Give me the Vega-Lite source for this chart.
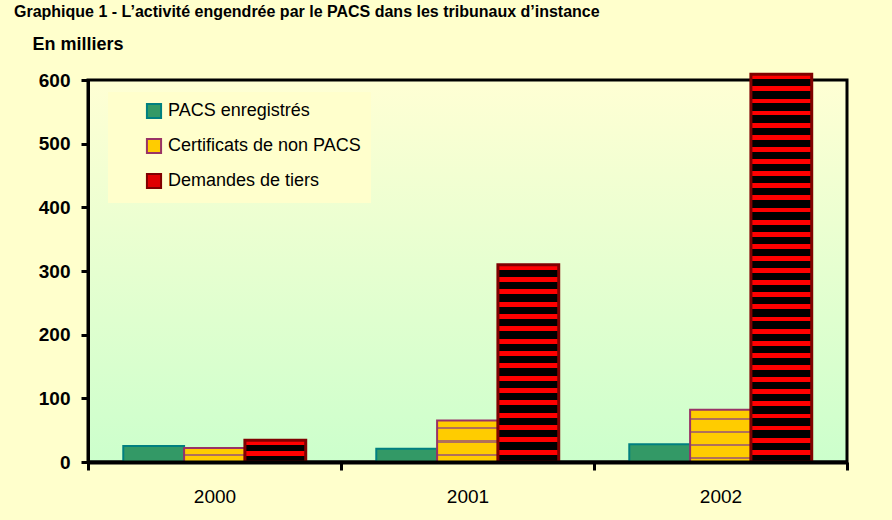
{
  "$schema": "https://vega.github.io/schema/vega-lite/v6.json",
  "autosize": "none",
  "width": 759,
  "height": 382,
  "padding": {"left": 88, "top": 80, "right": 45, "bottom": 58},
  "background": "#FFFFCC",
  "title": {
    "text": "Graphique 1 - L’activité engendrée par le PACS dans les tribunaux d’instance",
    "anchor": "start",
    "frame": "group",
    "dx": -74,
    "offset": 2,
    "baseline": "alphabetic",
    "font": "Liberation Sans",
    "fontSize": 16,
    "fontWeight": "bold",
    "color": "#000000"
  },
  "config": {
    "view": {
      "stroke": "#000000",
      "strokeWidth": 3,
      "fill": {"gradient": "linear", "x1": 0, "y1": 0, "x2": 0, "y2": 1, "stops": [{"offset": 0, "color": "#FFFFD4"}, {"offset": 1, "color": "#CCFFCC"}]}
    },
    "font": "Liberation Sans"
  },
  "data": {
    "values": [
      {"annee": "2000", "serie": "PACS enregistrés", "valeur": 25},
      {"annee": "2000", "serie": "Certificats de non PACS", "valeur": 22},
      {"annee": "2000", "serie": "Demandes de tiers", "valeur": 34},
      {"annee": "2001", "serie": "PACS enregistrés", "valeur": 21},
      {"annee": "2001", "serie": "Certificats de non PACS", "valeur": 65},
      {"annee": "2001", "serie": "Demandes de tiers", "valeur": 310},
      {"annee": "2002", "serie": "PACS enregistrés", "valeur": 28},
      {"annee": "2002", "serie": "Certificats de non PACS", "valeur": 82},
      {"annee": "2002", "serie": "Demandes de tiers", "valeur": 609}
    ]
  },
  "encoding": {
    "x": {
      "field": "annee", "type": "nominal",
      "scale": {"paddingInner": 0, "paddingOuter": 0},
      "axis": {
        "title": null, "labelAngle": 0, "tickBand": "extent",
        "domainColor": "#000000", "domainWidth": 4,
        "tickColor": "#000000", "tickWidth": 3, "tickSize": 8,
        "labelFont": "Liberation Sans", "labelFontSize": 19, "labelColor": "#000000",
        "labelPadding": 17, "zindex": 2
      }
    },
    "xOffset": {
      "field": "serie", "type": "nominal",
      "scale": {"domain": ["PACS enregistrés", "Certificats de non PACS", "Demandes de tiers"], "paddingInner": 0, "paddingOuter": 0.58}
    },
    "y": {
      "field": "valeur", "type": "quantitative",
      "scale": {"domain": [0, 600], "nice": false},
      "axis": {
        "title": "En milliers", "titleAngle": 0, "titleX": -56, "titleY": -36,
        "titleAlign": "left", "titleBaseline": "middle",
        "titleFont": "Liberation Sans", "titleFontSize": 18, "titleFontWeight": "bold", "titleColor": "#000000",
        "values": [0, 100, 200, 300, 400, 500, 600], "grid": false,
        "domainColor": "#000000", "domainWidth": 3,
        "tickColor": "#000000", "tickWidth": 3, "tickSize": 7,
        "labelFont": "Liberation Sans", "labelFontSize": 19, "labelFontWeight": "bold", "labelColor": "#000000",
        "labelPadding": 11, "zindex": 2
      }
    }
  },
  "layer": [
    {
      "transform": [{"filter": "datum.serie === 'PACS enregistrés'"}],
      "mark": {"type": "bar", "strokeWidth": 2},
      "encoding": {
        "color": {
          "field": "serie", "type": "nominal",
          "scale": {"domain": ["PACS enregistrés", "Certificats de non PACS", "Demandes de tiers"], "range": ["#339966", "#FFCC00", "#E00000"]},
          "legend": {
            "title": null, "orient": "none", "legendX": 20, "legendY": 12,
            "direction": "vertical",
            "fillColor": "#FFFFCC", "padding": 10, "symbolOffset": 27,
            "symbolType": "square", "symbolSize": 200, "symbolStrokeWidth": 2, "symbolOpacity": 1,
            "labelFont": "Liberation Sans", "labelFontSize": 18, "labelColor": "#000000",
            "labelOffset": 5, "rowPadding": 11, "labelLimit": 400
          }
        },
        "stroke": {
          "field": "serie", "type": "nominal",
          "scale": {"domain": ["PACS enregistrés", "Certificats de non PACS", "Demandes de tiers"], "range": ["#008080", "#993366", "#800000"]},
          "legend": {
            "title": null, "orient": "none", "legendX": 20, "legendY": 12,
            "direction": "vertical",
            "fillColor": "#FFFFCC", "padding": 10, "symbolOffset": 27,
            "symbolType": "square", "symbolSize": 200, "symbolStrokeWidth": 2, "symbolOpacity": 1,
            "labelFont": "Liberation Sans", "labelFontSize": 18, "labelColor": "#000000",
            "labelOffset": 5, "rowPadding": 11, "labelLimit": 400
          }
        }
      }
    },
    {
      "transform": [{"filter": "datum.serie === 'Certificats de non PACS' && datum.annee === '2000'"}],
      "mark": {"type": "bar", "stroke": "#993366", "strokeWidth": 2,
        "fill": {"gradient": "linear", "x1": 0, "y1": 0, "x2": 0, "y2": 1, "stops": [
          {"offset": 0, "color": "#FFCC00"}, {"offset": 0.45, "color": "#FFCC00"}, {"offset": 0.45, "color": "#B0705A"}, {"offset": 0.58, "color": "#B0705A"}, {"offset": 0.58, "color": "#FFCC00"}, {"offset": 1, "color": "#FFCC00"}]}}
    },
    {
      "transform": [{"filter": "datum.serie === 'Certificats de non PACS' && datum.annee === '2001'"}],
      "mark": {"type": "bar", "stroke": "#993366", "strokeWidth": 2,
        "fill": {"gradient": "linear", "x1": 0, "y1": 0, "x2": 0, "y2": 1, "stops": [
          {"offset": 0, "color": "#FFCC00"}, {"offset": 0.15, "color": "#FFCC00"}, {"offset": 0.15, "color": "#B0705A"}, {"offset": 0.2, "color": "#B0705A"},
          {"offset": 0.2, "color": "#FFCC00"}, {"offset": 0.48, "color": "#FFCC00"}, {"offset": 0.48, "color": "#B0705A"}, {"offset": 0.53, "color": "#B0705A"},
          {"offset": 0.53, "color": "#FFCC00"}, {"offset": 0.81, "color": "#FFCC00"}, {"offset": 0.81, "color": "#B0705A"}, {"offset": 0.86, "color": "#B0705A"},
          {"offset": 0.86, "color": "#FFCC00"}, {"offset": 1, "color": "#FFCC00"}]}}
    },
    {
      "transform": [{"filter": "datum.serie === 'Certificats de non PACS' && datum.annee === '2002'"}],
      "mark": {"type": "bar", "stroke": "#993366", "strokeWidth": 2,
        "fill": {"gradient": "linear", "x1": 0, "y1": 0, "x2": 0, "y2": 1, "stops": [
          {"offset": 0, "color": "#FFCC00"}, {"offset": 0.15, "color": "#FFCC00"}, {"offset": 0.15, "color": "#B0705A"}, {"offset": 0.19, "color": "#B0705A"},
          {"offset": 0.19, "color": "#FFCC00"}, {"offset": 0.4, "color": "#FFCC00"}, {"offset": 0.4, "color": "#B0705A"}, {"offset": 0.44, "color": "#B0705A"},
          {"offset": 0.44, "color": "#FFCC00"}, {"offset": 0.65, "color": "#FFCC00"}, {"offset": 0.65, "color": "#B0705A"}, {"offset": 0.69, "color": "#B0705A"},
          {"offset": 0.69, "color": "#FFCC00"}, {"offset": 0.9, "color": "#FFCC00"}, {"offset": 0.9, "color": "#B0705A"}, {"offset": 0.94, "color": "#B0705A"},
          {"offset": 0.94, "color": "#FFCC00"}, {"offset": 1, "color": "#FFCC00"}]}}
    },
    {
      "transform": [{"filter": "datum.serie === 'Demandes de tiers' && datum.annee === '2000'"}],
      "mark": {"type": "bar", "stroke": "#800000", "strokeWidth": 3,
        "fill": {"gradient": "linear", "x1": 0, "y1": 0, "x2": 0, "y2": 1, "stops": [
          {"offset": 0, "color": "#FF0000"}, {"offset": 0.2, "color": "#FF0000"}, {"offset": 0.2, "color": "#000000"}, {"offset": 0.5, "color": "#000000"},
          {"offset": 0.5, "color": "#FF0000"}, {"offset": 0.7, "color": "#FF0000"}, {"offset": 0.7, "color": "#000000"}, {"offset": 1, "color": "#000000"}]}}
    },
    {
      "transform": [{"filter": "datum.serie === 'Demandes de tiers' && datum.annee === '2001'"}],
      "mark": {"type": "bar", "stroke": "#800000", "strokeWidth": 3,
        "fill": {"gradient": "linear", "x1": 0, "y1": 0, "x2": 0, "y2": 1, "stops": [
          {"offset": 0, "color": "#FF0000"}, {"offset": 0.025, "color": "#FF0000"}, {"offset": 0.025, "color": "#000000"}, {"offset": 0.0625, "color": "#000000"},
          {"offset": 0.0625, "color": "#FF0000"}, {"offset": 0.0875, "color": "#FF0000"}, {"offset": 0.0875, "color": "#000000"}, {"offset": 0.125, "color": "#000000"},
          {"offset": 0.125, "color": "#FF0000"}, {"offset": 0.15, "color": "#FF0000"}, {"offset": 0.15, "color": "#000000"}, {"offset": 0.1875, "color": "#000000"},
          {"offset": 0.1875, "color": "#FF0000"}, {"offset": 0.2125, "color": "#FF0000"}, {"offset": 0.2125, "color": "#000000"}, {"offset": 0.25, "color": "#000000"},
          {"offset": 0.25, "color": "#FF0000"}, {"offset": 0.275, "color": "#FF0000"}, {"offset": 0.275, "color": "#000000"}, {"offset": 0.3125, "color": "#000000"},
          {"offset": 0.3125, "color": "#FF0000"}, {"offset": 0.3375, "color": "#FF0000"}, {"offset": 0.3375, "color": "#000000"}, {"offset": 0.375, "color": "#000000"},
          {"offset": 0.375, "color": "#FF0000"}, {"offset": 0.4, "color": "#FF0000"}, {"offset": 0.4, "color": "#000000"}, {"offset": 0.4375, "color": "#000000"},
          {"offset": 0.4375, "color": "#FF0000"}, {"offset": 0.4625, "color": "#FF0000"}, {"offset": 0.4625, "color": "#000000"}, {"offset": 0.5, "color": "#000000"},
          {"offset": 0.5, "color": "#FF0000"}, {"offset": 0.525, "color": "#FF0000"}, {"offset": 0.525, "color": "#000000"}, {"offset": 0.5625, "color": "#000000"},
          {"offset": 0.5625, "color": "#FF0000"}, {"offset": 0.5875, "color": "#FF0000"}, {"offset": 0.5875, "color": "#000000"}, {"offset": 0.625, "color": "#000000"},
          {"offset": 0.625, "color": "#FF0000"}, {"offset": 0.65, "color": "#FF0000"}, {"offset": 0.65, "color": "#000000"}, {"offset": 0.6875, "color": "#000000"},
          {"offset": 0.6875, "color": "#FF0000"}, {"offset": 0.7125, "color": "#FF0000"}, {"offset": 0.7125, "color": "#000000"}, {"offset": 0.75, "color": "#000000"},
          {"offset": 0.75, "color": "#FF0000"}, {"offset": 0.775, "color": "#FF0000"}, {"offset": 0.775, "color": "#000000"}, {"offset": 0.8125, "color": "#000000"},
          {"offset": 0.8125, "color": "#FF0000"}, {"offset": 0.8375, "color": "#FF0000"}, {"offset": 0.8375, "color": "#000000"}, {"offset": 0.875, "color": "#000000"},
          {"offset": 0.875, "color": "#FF0000"}, {"offset": 0.9, "color": "#FF0000"}, {"offset": 0.9, "color": "#000000"}, {"offset": 0.9375, "color": "#000000"},
          {"offset": 0.9375, "color": "#FF0000"}, {"offset": 0.9625, "color": "#FF0000"}, {"offset": 0.9625, "color": "#000000"}, {"offset": 1, "color": "#000000"}]}}
    },
    {
      "transform": [{"filter": "datum.serie === 'Demandes de tiers' && datum.annee === '2002'"}],
      "mark": {"type": "bar", "stroke": "#800000", "strokeWidth": 3,
        "fill": {"gradient": "linear", "x1": 0, "y1": 0, "x2": 0, "y2": 1, "stops": [
          {"offset": 0, "color": "#FF0000"}, {"offset": 0.0125, "color": "#FF0000"}, {"offset": 0.0125, "color": "#000000"}, {"offset": 0.03125, "color": "#000000"},
          {"offset": 0.03125, "color": "#FF0000"}, {"offset": 0.04375, "color": "#FF0000"}, {"offset": 0.04375, "color": "#000000"}, {"offset": 0.0625, "color": "#000000"},
          {"offset": 0.0625, "color": "#FF0000"}, {"offset": 0.075, "color": "#FF0000"}, {"offset": 0.075, "color": "#000000"}, {"offset": 0.09375, "color": "#000000"},
          {"offset": 0.09375, "color": "#FF0000"}, {"offset": 0.10625, "color": "#FF0000"}, {"offset": 0.10625, "color": "#000000"}, {"offset": 0.125, "color": "#000000"},
          {"offset": 0.125, "color": "#FF0000"}, {"offset": 0.1375, "color": "#FF0000"}, {"offset": 0.1375, "color": "#000000"}, {"offset": 0.15625, "color": "#000000"},
          {"offset": 0.15625, "color": "#FF0000"}, {"offset": 0.16875, "color": "#FF0000"}, {"offset": 0.16875, "color": "#000000"}, {"offset": 0.1875, "color": "#000000"},
          {"offset": 0.1875, "color": "#FF0000"}, {"offset": 0.2, "color": "#FF0000"}, {"offset": 0.2, "color": "#000000"}, {"offset": 0.21875, "color": "#000000"},
          {"offset": 0.21875, "color": "#FF0000"}, {"offset": 0.23125, "color": "#FF0000"}, {"offset": 0.23125, "color": "#000000"}, {"offset": 0.25, "color": "#000000"},
          {"offset": 0.25, "color": "#FF0000"}, {"offset": 0.2625, "color": "#FF0000"}, {"offset": 0.2625, "color": "#000000"}, {"offset": 0.28125, "color": "#000000"},
          {"offset": 0.28125, "color": "#FF0000"}, {"offset": 0.29375, "color": "#FF0000"}, {"offset": 0.29375, "color": "#000000"}, {"offset": 0.3125, "color": "#000000"},
          {"offset": 0.3125, "color": "#FF0000"}, {"offset": 0.325, "color": "#FF0000"}, {"offset": 0.325, "color": "#000000"}, {"offset": 0.34375, "color": "#000000"},
          {"offset": 0.34375, "color": "#FF0000"}, {"offset": 0.35625, "color": "#FF0000"}, {"offset": 0.35625, "color": "#000000"}, {"offset": 0.375, "color": "#000000"},
          {"offset": 0.375, "color": "#FF0000"}, {"offset": 0.3875, "color": "#FF0000"}, {"offset": 0.3875, "color": "#000000"}, {"offset": 0.40625, "color": "#000000"},
          {"offset": 0.40625, "color": "#FF0000"}, {"offset": 0.41875, "color": "#FF0000"}, {"offset": 0.41875, "color": "#000000"}, {"offset": 0.4375, "color": "#000000"},
          {"offset": 0.4375, "color": "#FF0000"}, {"offset": 0.45, "color": "#FF0000"}, {"offset": 0.45, "color": "#000000"}, {"offset": 0.46875, "color": "#000000"},
          {"offset": 0.46875, "color": "#FF0000"}, {"offset": 0.48125, "color": "#FF0000"}, {"offset": 0.48125, "color": "#000000"}, {"offset": 0.5, "color": "#000000"},
          {"offset": 0.5, "color": "#FF0000"}, {"offset": 0.5125, "color": "#FF0000"}, {"offset": 0.5125, "color": "#000000"}, {"offset": 0.53125, "color": "#000000"},
          {"offset": 0.53125, "color": "#FF0000"}, {"offset": 0.54375, "color": "#FF0000"}, {"offset": 0.54375, "color": "#000000"}, {"offset": 0.5625, "color": "#000000"},
          {"offset": 0.5625, "color": "#FF0000"}, {"offset": 0.575, "color": "#FF0000"}, {"offset": 0.575, "color": "#000000"}, {"offset": 0.59375, "color": "#000000"},
          {"offset": 0.59375, "color": "#FF0000"}, {"offset": 0.60625, "color": "#FF0000"}, {"offset": 0.60625, "color": "#000000"}, {"offset": 0.625, "color": "#000000"},
          {"offset": 0.625, "color": "#FF0000"}, {"offset": 0.6375, "color": "#FF0000"}, {"offset": 0.6375, "color": "#000000"}, {"offset": 0.65625, "color": "#000000"},
          {"offset": 0.65625, "color": "#FF0000"}, {"offset": 0.66875, "color": "#FF0000"}, {"offset": 0.66875, "color": "#000000"}, {"offset": 0.6875, "color": "#000000"},
          {"offset": 0.6875, "color": "#FF0000"}, {"offset": 0.7, "color": "#FF0000"}, {"offset": 0.7, "color": "#000000"}, {"offset": 0.71875, "color": "#000000"},
          {"offset": 0.71875, "color": "#FF0000"}, {"offset": 0.73125, "color": "#FF0000"}, {"offset": 0.73125, "color": "#000000"}, {"offset": 0.75, "color": "#000000"},
          {"offset": 0.75, "color": "#FF0000"}, {"offset": 0.7625, "color": "#FF0000"}, {"offset": 0.7625, "color": "#000000"}, {"offset": 0.78125, "color": "#000000"},
          {"offset": 0.78125, "color": "#FF0000"}, {"offset": 0.79375, "color": "#FF0000"}, {"offset": 0.79375, "color": "#000000"}, {"offset": 0.8125, "color": "#000000"},
          {"offset": 0.8125, "color": "#FF0000"}, {"offset": 0.825, "color": "#FF0000"}, {"offset": 0.825, "color": "#000000"}, {"offset": 0.84375, "color": "#000000"},
          {"offset": 0.84375, "color": "#FF0000"}, {"offset": 0.85625, "color": "#FF0000"}, {"offset": 0.85625, "color": "#000000"}, {"offset": 0.875, "color": "#000000"},
          {"offset": 0.875, "color": "#FF0000"}, {"offset": 0.8875, "color": "#FF0000"}, {"offset": 0.8875, "color": "#000000"}, {"offset": 0.90625, "color": "#000000"},
          {"offset": 0.90625, "color": "#FF0000"}, {"offset": 0.91875, "color": "#FF0000"}, {"offset": 0.91875, "color": "#000000"}, {"offset": 0.9375, "color": "#000000"},
          {"offset": 0.9375, "color": "#FF0000"}, {"offset": 0.95, "color": "#FF0000"}, {"offset": 0.95, "color": "#000000"}, {"offset": 0.96875, "color": "#000000"},
          {"offset": 0.96875, "color": "#FF0000"}, {"offset": 0.98125, "color": "#FF0000"}, {"offset": 0.98125, "color": "#000000"}, {"offset": 1, "color": "#000000"}]}}
    }
  ]
}
